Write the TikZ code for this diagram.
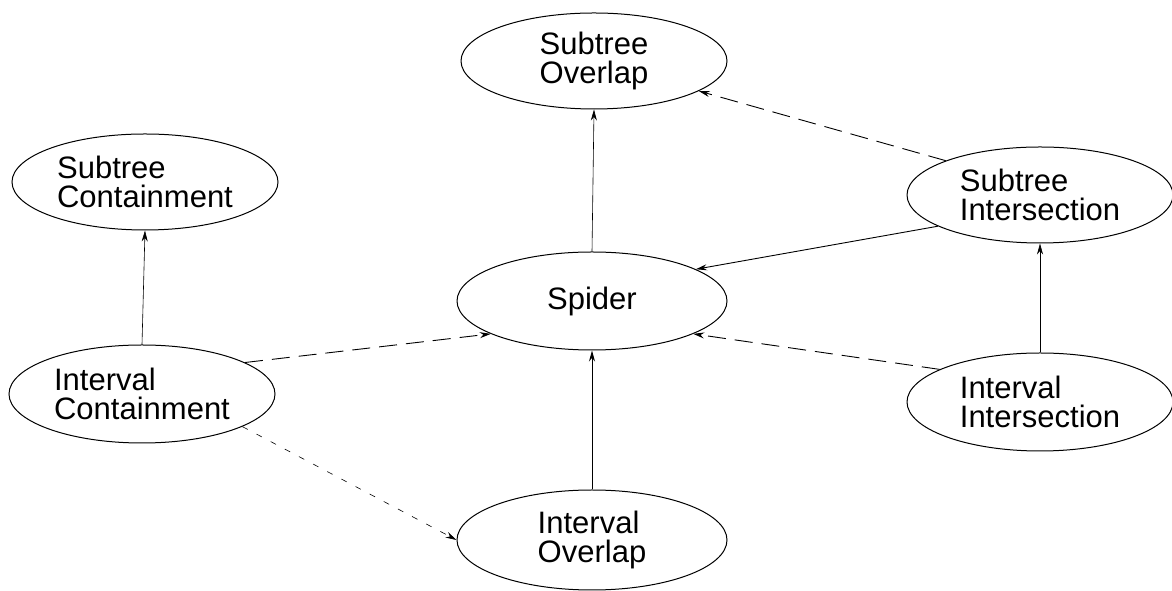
\documentclass[tikz,border=0pt]{standalone}
\usepackage{fontspec}
\setmainfont{Liberation Sans}
\usetikzlibrary{shapes.geometric,arrows.meta}
\begin{document}
\begin{tikzpicture}[x=1pt,y=1pt,
  elli/.style={ellipse,draw,line width=1pt,minimum width=266pt,minimum height=96pt,inner sep=0pt,align=left,font=\fontsize{31}{29}\selectfont},
  arr/.style={-{Stealth[length=11pt,width=6pt]},line width=0.9pt},
  thinarr/.style={arr,line width=0.6pt},
  dsh/.style={arr,dash pattern=on 18pt off 9pt},
  dot/.style={arr,line width=0.6pt,dash pattern=on 6pt off 10pt}]
\useasboundingbox (0,0) rectangle (1172,591);
\node[elli] (so) at (594,530) {Subtree\\Overlap};
\node[elli] (sc) at (145,409) {Subtree\\Containment};
\node[elli,minimum width=270pt,minimum height=98pt] (sp) at (592,290) {Spider};
\node[elli] (si) at (1040,396) {Subtree\\Intersection};
\node[elli,minimum height=98pt] (ic) at (142,197) {Interval\\Containment};
\node[elli,minimum height=98pt] (ii) at (1040,189) {Interval\\Intersection};
\node[elli,minimum width=270pt,minimum height=100pt] (io) at (592,51) {Interval\\Overlap};
\draw[thinarr] (sp.north) -- (so.south);
\draw[dsh] (si.160) -- (so.-16);
\draw[arr] (si.197) -- (sp.17);
\draw[thinarr] (ii.north) -- (si.south);
\draw[dsh] (ii.162) -- (sp.-18);
\draw[thinarr] (ic.north) -- (sc.south);
\draw[dsh] (ic.17) -- (sp.198);
\draw[dot] (ic.-18) -- (io.west);
\draw[arr] (io.north) -- (sp.south);
\end{tikzpicture}
\end{document}
